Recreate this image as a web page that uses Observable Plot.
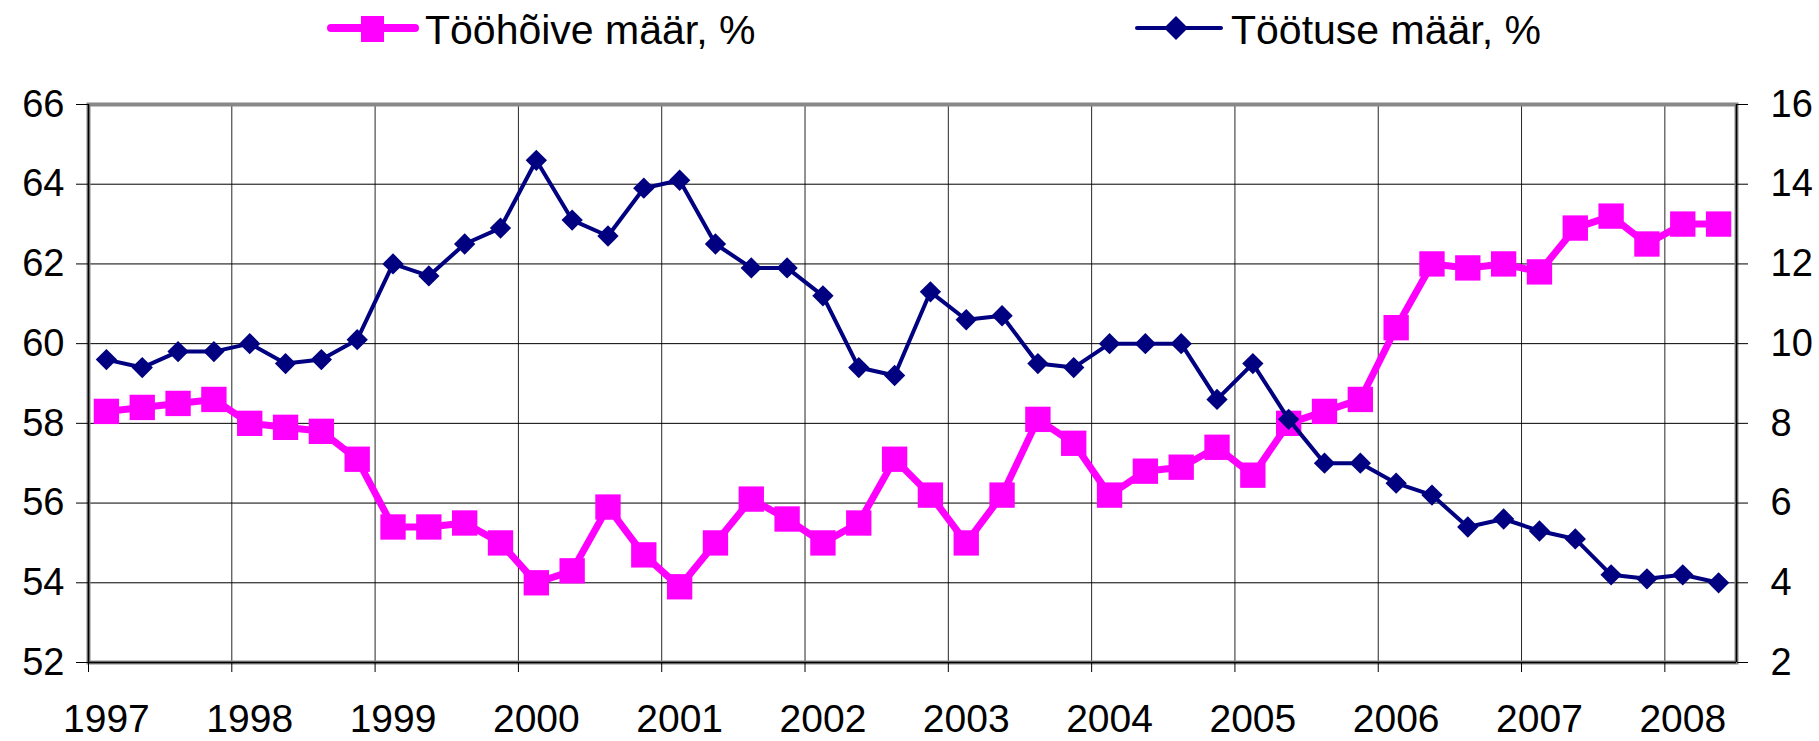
<!DOCTYPE html>
<html>
<head>
<meta charset="utf-8">
<script src="https://cdn.jsdelivr.net/npm/d3@7"></script>
<script src="https://cdn.jsdelivr.net/npm/@observablehq/plot@0.6"></script>
<style>
  html, body { margin: 0; padding: 0; background: #fff; }
  #wrap { position: relative; width: 1819px; height: 741px; font-family: "Liberation Sans", Arial, sans-serif; color: #000; }
  #legend { position: absolute; left: 0; top: 0; width: 1819px; height: 60px; }
  .item { position: absolute; top: 0; height: 60px; display: flex; align-items: center; font-size: 41px; line-height: 1; white-space: nowrap; }
  .item svg { display: block; margin-right: 6px; }
  #chart { position: absolute; left: 0; top: 0; }
</style>
</head>
<body>
<div id="wrap">
  <div id="chart"></div>
  <div id="legend"></div>
</div>
<script>
// ---- data ----
const periods = [
  "1997 I","1997 II","1997 III","1997 IV",
  "1998 I","1998 II","1998 III","1998 IV",
  "1999 I","1999 II","1999 III","1999 IV",
  "2000 I","2000 II","2000 III","2000 IV",
  "2001 I","2001 II","2001 III","2001 IV",
  "2002 I","2002 II","2002 III","2002 IV",
  "2003 I","2003 II","2003 III","2003 IV",
  "2004 I","2004 II","2004 III","2004 IV",
  "2005 I","2005 II","2005 III","2005 IV",
  "2006 I","2006 II","2006 III","2006 IV",
  "2007 I","2007 II","2007 III","2007 IV",
  "2008 I","2008 II"
];
const employment = [
  58.3, 58.4, 58.5, 58.6,
  58.0, 57.9, 57.8, 57.1,
  55.4, 55.4, 55.5, 55.0,
  54.0, 54.3, 55.9, 54.7,
  53.9, 55.0, 56.1, 55.6,
  55.0, 55.5, 57.1, 56.2,
  55.0, 56.2, 58.1, 57.5,
  56.2, 56.8, 56.9, 57.4,
  56.7, 58.0, 58.3, 58.6,
  60.4, 62.0, 61.9, 62.0,
  61.8, 62.9, 63.2, 62.5,
  63.0, 63.0
];
const unemployment = [
  9.6, 9.4, 9.8, 9.8,
  10.0, 9.5, 9.6, 10.1,
  12.0, 11.7, 12.5, 12.9,
  14.6, 13.1, 12.7, 13.9,
  14.1, 12.5, 11.9, 11.9,
  11.2, 9.4, 9.2, 11.3,
  10.6, 10.7, 9.5, 9.4,
  10.0, 10.0, 10.0, 8.6,
  9.5, 8.1, 7.0, 7.0,
  6.5, 6.2, 5.4, 5.6,
  5.3, 5.1, 4.2, 4.1,
  4.2, 4.0
];
const years = [1997,1998,1999,2000,2001,2002,2003,2004,2005,2006,2007,2008];
const leftTicks = [52,54,56,58,60,62,64,66];
const rightTicks = [2,4,6,8,10,12,14,16];
const seriesNames = ["Tööhõive määr, %", "Töötuse määr, %"];
const colors = ["#FF00FF", "#000080"];
const rightOffset = 50; // secondary axis: right value = left value - 50

// ---- build table ----
const romans = {I: 1, II: 2, III: 3, IV: 4};
const rows = periods.map((p, i) => {
  const [y, q] = p.split(" ");
  return { t: +y + (romans[q] - 0.5) / 4, emp: employment[i], unemp: unemployment[i] + rightOffset };
});

const W = 1819, H = 741;
const chart = Plot.plot({
  width: W,
  height: H,
  marginLeft: 88,
  marginRight: W - 1736,
  marginTop: 104,
  marginBottom: H - 662,
  style: { fontFamily: "'Liberation Sans', Arial, sans-serif", fontSize: "38px", color: "#000", background: "#fff", overflow: "visible" },
  x: { domain: [1997, 2008.5] },
  y: { domain: [52, 66] },
  marks: [
    // gridlines
    Plot.ruleY(leftTicks.filter(d => d > 52 && d < 66), { stroke: "#000", strokeWidth: 1 }),
    Plot.ruleX(years.filter(d => d > 1997), { stroke: "#000", strokeWidth: 1, strokeOpacity: 0.85 }),
    // plot area border
    Plot.frame({ stroke: "#888", strokeWidth: 4 }),
    Plot.ruleX([1997, 2008.5], { stroke: "#000", strokeWidth: 1.5 }),
    Plot.ruleY([52], { stroke: "#000", strokeWidth: 1.5 }),
    // axes
    Plot.axisY({ anchor: "left", ticks: leftTicks, tickSize: 12, tickPadding: 12, fontSize: 38, label: null }),
    Plot.axisY({ anchor: "right", ticks: leftTicks, tickSize: 11, tickPadding: 23, fontSize: 38, label: null,
                 tickFormat: d => String(d - rightOffset) }),
    Plot.axisX({ anchor: "bottom", ticks: years, tickSize: 10, tickFormat: () => "", label: null }),
    Plot.axisX({ anchor: "bottom", ticks: years.map(y => y + 0.125), tickSize: 0, tickPadding: 42, fontSize: 39, label: null,
                 tickFormat: d => String(Math.round(d - 0.125)) }),
    // employment series
    Plot.line(rows, { x: "t", y: "emp", stroke: colors[0], strokeWidth: 7, strokeLinejoin: "miter" }),
    Plot.dot(rows, { x: "t", y: "emp", symbol: "square", r: 14.3, fill: colors[0], stroke: "none" }),
    // unemployment series (secondary axis)
    Plot.line(rows, { x: "t", y: "unemp", stroke: colors[1], strokeWidth: 4 }),
    Plot.dot(rows, { x: "t", y: "unemp", symbol: "diamond2", r: 9.6, fill: colors[1], stroke: "none" })
  ]
});
document.getElementById("chart").appendChild(chart);

// ---- legend ----
const legend = document.getElementById("legend");
const legendItems = [
  { name: seriesNames[0], color: colors[0], left: 327, sym: "square" },
  { name: seriesNames[1], color: colors[1], left: 1133, sym: "diamond" }
];
legendItems.forEach(it => {
  const div = document.createElement("div");
  div.className = "item";
  div.style.left = it.left + "px";
  const ns = "http://www.w3.org/2000/svg";
  const s = document.createElementNS(ns, "svg");
  s.setAttribute("width", 92); s.setAttribute("height", 40);
  const ln = document.createElementNS(ns, "line");
  ln.setAttribute("x1", 4); ln.setAttribute("x2", 88); ln.setAttribute("y1", 18); ln.setAttribute("y2", 18);
  ln.setAttribute("stroke", it.color);
  ln.setAttribute("stroke-width", it.sym === "square" ? 8 : 4);
  ln.setAttribute("stroke-linecap", "round");
  s.appendChild(ln);
  const mk = document.createElementNS(ns, "path");
  if (it.sym === "square") mk.setAttribute("d", "M34,6h23v26h-23z");
  else mk.setAttribute("d", "M43,6L55,18L43,30L31,18Z");
  mk.setAttribute("fill", it.color);
  s.appendChild(mk);
  div.appendChild(s);
  const span = document.createElement("span");
  span.textContent = it.name;
  div.appendChild(span);
  legend.appendChild(div);
});
</script>
</body>
</html>
